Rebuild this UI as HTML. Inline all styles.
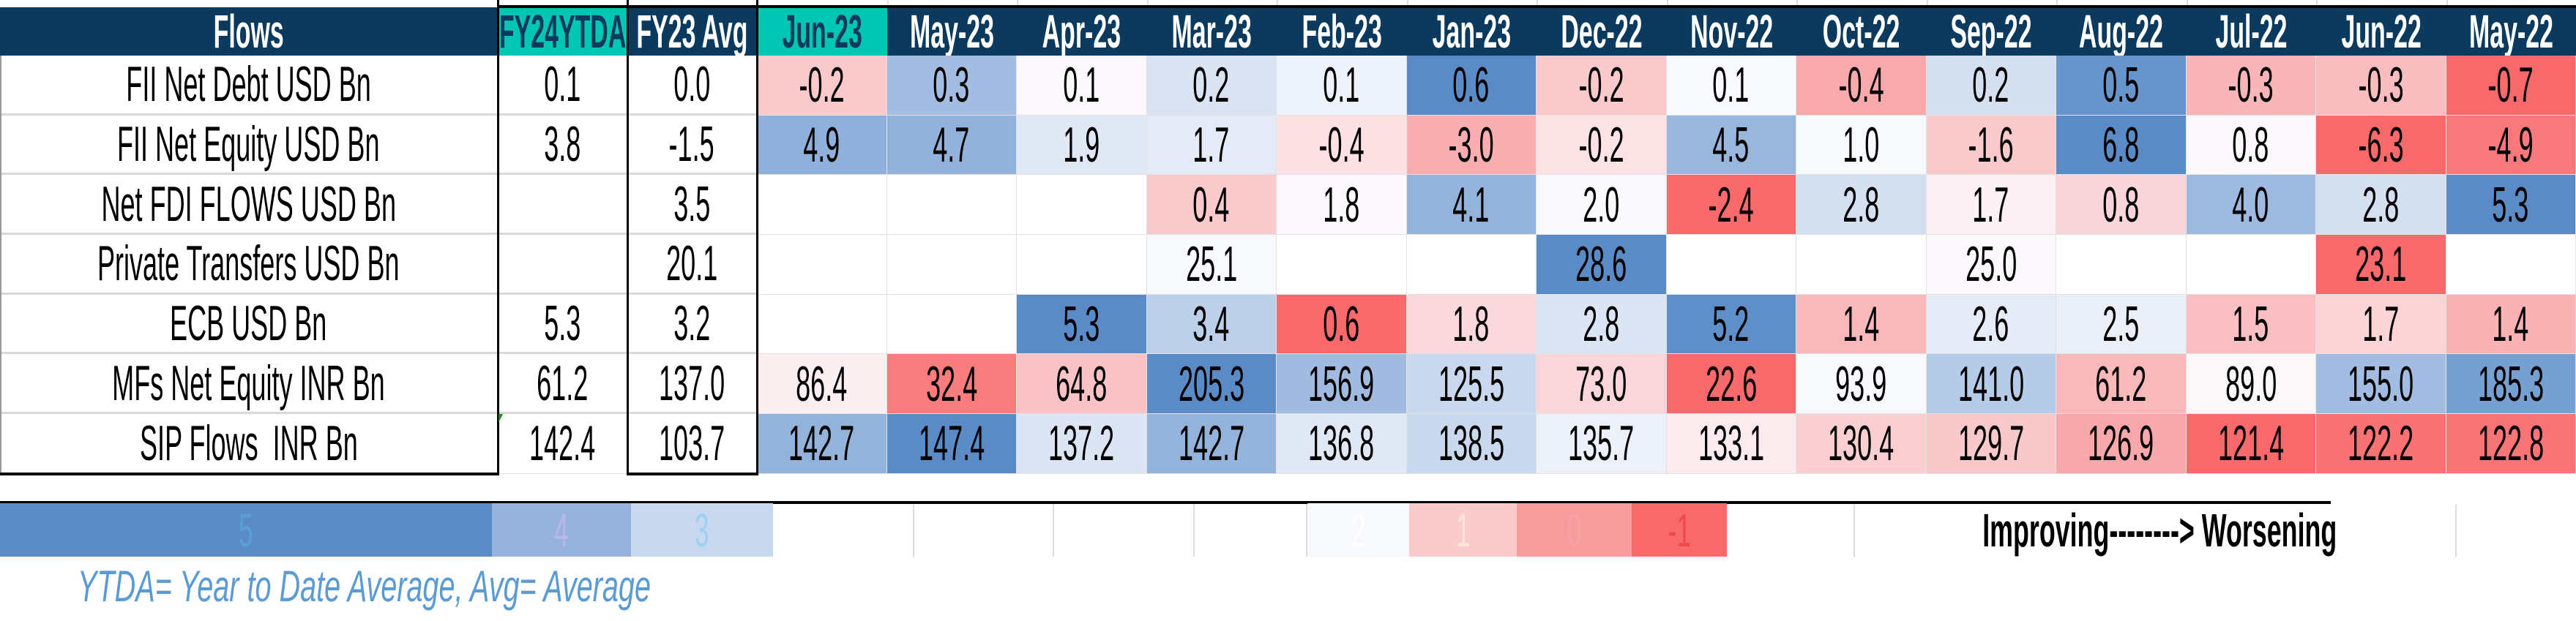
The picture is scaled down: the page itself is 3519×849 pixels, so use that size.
<!DOCTYPE html>
<html><head><meta charset="utf-8">
<style>
*{margin:0;padding:0;box-sizing:border-box}
body{width:3519px;height:849px;background:#fff;position:relative;overflow:hidden;font-family:"Liberation Sans",sans-serif}
.g{position:absolute;left:0;display:grid;grid-template-columns:680px 177px 177px repeat(14,177.5px)}
.hd{top:10px;height:66px;grid-template-rows:66px;background:#0b3a5e}
.bd{top:76px;grid-template-rows:repeat(7,81.7px)}
.c{display:flex;align-items:center;justify-content:center;font-size:68px;color:#000;border-right:1px solid #e2e2e2;border-bottom:1px solid #e2e2e2;overflow:visible;white-space:nowrap;line-height:1}
.c span{display:inline-block;transform:scaleX(.53)}
.hd .c{font-weight:bold;color:#fff;border:none;font-size:64px}
.hd .c span{transform:scaleX(.53)}
.t{background:#00c7b1;color:#0b3a5e!important}
.l{border-bottom:3px solid #d9d9d9}
.v{position:absolute;background:#000}
.gv{position:absolute;background:#dcdcdc;width:2px}
.lg{position:absolute;top:688px;height:73px;display:flex;align-items:center;justify-content:center;font-size:64px;line-height:1;white-space:nowrap}
.lg span{display:inline-block;transform:scaleX(.55);white-space:nowrap}
</style></head><body>
<div class="gv" style="left:1212px;top:0;height:10px"></div><div class="gv" style="left:1389px;top:0;height:10px"></div><div class="gv" style="left:1567px;top:0;height:10px"></div><div class="gv" style="left:1744px;top:0;height:10px"></div><div class="gv" style="left:1922px;top:0;height:10px"></div><div class="gv" style="left:2099px;top:0;height:10px"></div><div class="gv" style="left:2277px;top:0;height:10px"></div><div class="gv" style="left:2454px;top:0;height:10px"></div><div class="gv" style="left:2632px;top:0;height:10px"></div><div class="gv" style="left:2809px;top:0;height:10px"></div><div class="gv" style="left:2987px;top:0;height:10px"></div><div class="gv" style="left:3164px;top:0;height:10px"></div><div class="gv" style="left:3342px;top:0;height:10px"></div>
<div class="g hd">
<div class="c"><span>Flows</span></div><div class="c t"><span>FY24YTDA</span></div><div class="c"><span>FY23 Avg</span></div>
<div class="c t"><span>Jun-23</span></div><div class="c"><span>May-23</span></div><div class="c"><span>Apr-23</span></div><div class="c"><span>Mar-23</span></div><div class="c"><span>Feb-23</span></div><div class="c"><span>Jan-23</span></div><div class="c"><span>Dec-22</span></div><div class="c"><span>Nov-22</span></div><div class="c"><span>Oct-22</span></div><div class="c"><span>Sep-22</span></div><div class="c"><span>Aug-22</span></div><div class="c"><span>Jul-22</span></div><div class="c"><span>Jun-22</span></div><div class="c"><span>May-22</span></div>
</div>
<div class="v" style="left:680px;top:7px;width:2839px;height:4px"></div>
<div class="g bd">
<div class="c l"><span>FII Net Debt USD Bn</span></div><div class="c l"><span>0.1</span></div><div class="c l"><span>0.0</span></div>
<div class="c" style="background:#f9c9cc"><span>-0.2</span></div><div class="c" style="background:#a3bde2"><span>0.3</span></div><div class="c" style="background:#fbf8fb"><span>0.1</span></div><div class="c" style="background:#d9e3f2"><span>0.2</span></div><div class="c" style="background:#eef2fa"><span>0.1</span></div><div class="c" style="background:#5b8bc7"><span>0.6</span></div><div class="c" style="background:#f9c9cc"><span>-0.2</span></div><div class="c" style="background:#f8f9fc"><span>0.1</span></div><div class="c" style="background:#f8a9ab"><span>-0.4</span></div><div class="c" style="background:#d4dff0"><span>0.2</span></div><div class="c" style="background:#6794cb"><span>0.5</span></div><div class="c" style="background:#f8b6b8"><span>-0.3</span></div><div class="c" style="background:#f9bdc0"><span>-0.3</span></div><div class="c" style="background:#f8696b"><span>-0.7</span></div>

<div class="c l"><span>FII Net Equity USD Bn</span></div><div class="c l"><span>3.8</span></div><div class="c l"><span>-1.5</span></div>
<div class="c" style="background:#8fb0da"><span>4.9</span></div><div class="c" style="background:#92b2db"><span>4.7</span></div><div class="c" style="background:#e0e8f5"><span>1.9</span></div><div class="c" style="background:#e4ebf6"><span>1.7</span></div><div class="c" style="background:#fbe0e4"><span>-0.4</span></div><div class="c" style="background:#f8adb0"><span>-3.0</span></div><div class="c" style="background:#fbe2e5"><span>-0.2</span></div><div class="c" style="background:#99b6dc"><span>4.5</span></div><div class="c" style="background:#f8f9fc"><span>1.0</span></div><div class="c" style="background:#f9c9cc"><span>-1.6</span></div><div class="c" style="background:#5b8bc7"><span>6.8</span></div><div class="c" style="background:#fbf9fb"><span>0.8</span></div><div class="c" style="background:#f8696b"><span>-6.3</span></div><div class="c" style="background:#f7797b"><span>-4.9</span></div>

<div class="c l"><span>Net FDI FLOWS USD Bn</span></div><div class="c l"></div><div class="c l"><span>3.5</span></div>
<div class="c"></div><div class="c"></div><div class="c"></div><div class="c" style="background:#f9c9cc"><span>0.4</span></div><div class="c" style="background:#faf8fb"><span>1.8</span></div><div class="c" style="background:#94b3db"><span>4.1</span></div><div class="c" style="background:#f9f9fc"><span>2.0</span></div><div class="c" style="background:#f8696b"><span>-2.4</span></div><div class="c" style="background:#d4dff0"><span>2.8</span></div><div class="c" style="background:#fbf0f3"><span>1.7</span></div><div class="c" style="background:#f9d5d9"><span>0.8</span></div><div class="c" style="background:#9fbae0"><span>4.0</span></div><div class="c" style="background:#d4dff0"><span>2.8</span></div><div class="c" style="background:#5b8bc7"><span>5.3</span></div>

<div class="c l"><span>Private Transfers USD Bn</span></div><div class="c l"></div><div class="c l"><span>20.1</span></div>
<div class="c"></div><div class="c"></div><div class="c"></div><div class="c" style="background:#f8f9fd"><span>25.1</span></div><div class="c"></div><div class="c"></div><div class="c" style="background:#5b8bc7"><span>28.6</span></div><div class="c"></div><div class="c"></div><div class="c" style="background:#fbf8fb"><span>25.0</span></div><div class="c"></div><div class="c"></div><div class="c" style="background:#f8696b"><span>23.1</span></div><div class="c"></div>

<div class="c l"><span>ECB USD Bn</span></div><div class="c l"><span>5.3</span></div><div class="c l"><span>3.2</span></div>
<div class="c"></div><div class="c"></div><div class="c" style="background:#5b8bc7"><span>5.3</span></div><div class="c" style="background:#bcd0ea"><span>3.4</span></div><div class="c" style="background:#f8696b"><span>0.6</span></div><div class="c" style="background:#fbd8dc"><span>1.8</span></div><div class="c" style="background:#dce5f3"><span>2.8</span></div><div class="c" style="background:#5f8fc9"><span>5.2</span></div><div class="c" style="background:#f9b8ba"><span>1.4</span></div><div class="c" style="background:#e6ecf7"><span>2.6</span></div><div class="c" style="background:#ebeff8"><span>2.5</span></div><div class="c" style="background:#f9bfc2"><span>1.5</span></div><div class="c" style="background:#fbd4d8"><span>1.7</span></div><div class="c" style="background:#f9b3b5"><span>1.4</span></div>

<div class="c l"><span>MFs Net Equity INR Bn</span></div><div class="c l"><span>61.2</span></div><div class="c l"><span>137.0</span></div>
<div class="c" style="background:#fbeff2"><span>86.4</span></div><div class="c" style="background:#f87c7e"><span>32.4</span></div><div class="c" style="background:#f9c2c5"><span>64.8</span></div><div class="c" style="background:#5b8bc7"><span>205.3</span></div><div class="c" style="background:#a0bbdf"><span>156.9</span></div><div class="c" style="background:#c9d8ed"><span>125.5</span></div><div class="c" style="background:#fad6da"><span>73.0</span></div><div class="c" style="background:#f8696b"><span>22.6</span></div><div class="c" style="background:#f8f9fd"><span>93.9</span></div><div class="c" style="background:#b6cbe8"><span>141.0</span></div><div class="c" style="background:#f9b9bb"><span>61.2</span></div><div class="c" style="background:#fbf8fa"><span>89.0</span></div><div class="c" style="background:#a2bde1"><span>155.0</span></div><div class="c" style="background:#76a0d1"><span>185.3</span></div>

<div class="c"><span>SIP Flows&nbsp; INR Bn</span></div><div class="c"><span>142.4</span></div><div class="c"><span>103.7</span></div>
<div class="c" style="background:#93b3db"><span>142.7</span></div><div class="c" style="background:#5b8bc7"><span>147.4</span></div><div class="c" style="background:#dce5f3"><span>137.2</span></div><div class="c" style="background:#93b3db"><span>142.7</span></div><div class="c" style="background:#e0e8f5"><span>136.8</span></div><div class="c" style="background:#c9d8ed"><span>138.5</span></div><div class="c" style="background:#ecf0f9"><span>135.7</span></div><div class="c" style="background:#fbeaee"><span>133.1</span></div><div class="c" style="background:#f9cfd2"><span>130.4</span></div><div class="c" style="background:#f9c8cb"><span>129.7</span></div><div class="c" style="background:#f8a8aa"><span>126.9</span></div><div class="c" style="background:#f8696b"><span>121.4</span></div><div class="c" style="background:#f87173"><span>122.2</span></div><div class="c" style="background:#f87476"><span>122.8</span></div>
</div>
<div class="v" style="left:0;top:76px;width:2px;height:572px;background:#999"></div>
<div class="v" style="left:679px;top:0;width:3px;height:650px"></div>
<div class="v" style="left:856px;top:0;width:3px;height:650px"></div>
<div class="v" style="left:1033px;top:0;width:3px;height:650px"></div>
<div class="v" style="left:0;top:646px;width:680px;height:4px"></div>
<div class="v" style="left:857px;top:646px;width:177px;height:4px"></div>
<div style="position:absolute;left:681px;top:566px;width:0;height:0;border-top:12px solid #1a8a1a;border-right:6px solid transparent"></div>
<div class="v" style="left:0;top:685px;width:3184px;height:4px"></div>
<div class="lg" style="left:0;width:672px;background:#5b8bc7;color:#5aa0d8"><span>5</span></div>
<div class="lg" style="left:672px;width:190px;background:#95b3db;color:#b9b6ee"><span>4</span></div>
<div class="lg" style="left:862px;width:194px;background:#c8d8ef;color:#9cd0f5"><span>3</span></div>
<div class="gv" style="left:1247px;top:689px;height:72px"></div><div class="gv" style="left:1438px;top:689px;height:72px"></div><div class="gv" style="left:1630px;top:689px;height:72px"></div><div class="gv" style="left:1784px;top:689px;height:72px"></div>
<div class="lg" style="left:1786px;width:139px;background:#f8f9fd;color:#fff"><span>2</span></div>
<div class="lg" style="left:1925px;width:147px;background:#f9cbcd;color:#fbe7d6"><span>1</span></div>
<div class="lg" style="left:2072px;width:157px;background:#f99c9e;color:#f9a2a2"><span>0</span></div>
<div class="lg" style="left:2229px;width:130px;background:#f8696b;color:#f0494c"><span>-1</span></div>
<div class="gv" style="left:2532px;top:689px;height:72px"></div><div class="gv" style="left:3354px;top:689px;height:72px"></div>
<div class="lg" style="left:2560px;width:780px;font-weight:bold;color:#000"><span style="transform:scaleX(.56)">Improving--------&gt; Worsening</span></div>
<div style="position:absolute;left:106px;top:770px;font-size:60px;font-style:italic;color:#5b9bd5;white-space:nowrap;transform:scaleX(.66);transform-origin:left center;line-height:64px">YTDA= Year to Date Average, Avg= Average</div>
</body></html>
